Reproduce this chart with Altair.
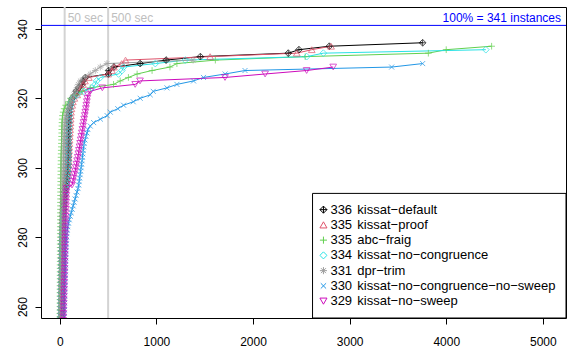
import altair as alt
import pandas as pd

SOLVERS = ["kissat-default", "kissat-proof", "abc-fraig", "kissat-no-congruence",
           "dpr-trim", "kissat-no-congruence-no-sweep", "kissat-no-sweep"]
SOLVED = [336, 335, 335, 334, 331, 330, 329]
COLORS = ["#000000", "#DF536B", "#61D04F", "#28E2E5", "#9E9E9E", "#2297E6", "#CD0BBC"]
SHAPES = [
    "M0,-1L1,0L0,1L-1,0Z M-1,0L1,0 M0,-1L0,1",
    "triangle-up",
    "M-1,0L1,0 M0,-1L0,1",
    "diamond",
    "M-1,0L1,0 M0,-1L0,1 M-0.7,-0.7L0.7,0.7 M-0.7,0.7L0.7,-0.7",
    "M-0.75,-0.75L0.75,0.75 M-0.75,0.75L0.75,-0.75",
    "triangle-down",
]
FIRST_RANK = 255
X_TICKS = [0, 1000, 2000, 3000, 4000, 5000]
Y_TICKS = [260, 280, 300, 320, 340]
TOTAL = 341
MARKS_SEC = [50, 500]

# solving times (s), one per solved instance, from rank FIRST_RANK upwards
t_default = [12, 12, 13, 13, 14, 14, 15, 15, 16, 16,
             17, 17, 18, 18, 19, 19, 20, 20, 21, 21,
             22, 22, 23, 23, 24, 25, 26, 27, 28, 29,
             30, 32, 34, 36, 38, 40, 43, 46, 50, 55,
             60, 66, 72, 78, 82, 84, 85, 86, 87, 88,
             88, 89, 89, 90, 90, 91, 91, 92, 93, 94,
             95, 97, 100, 108, 120, 130, 160, 170, 195, 230,
             240, 265, 503, 505, 560, 832, 1100, 1455, 2365, 2475, 2790, 3756]
t_proof = [14, 14, 15, 15, 16, 16, 17, 17, 18, 18,
           19, 19, 20, 20, 21, 21, 22, 22, 23, 23,
           24, 25, 26, 27, 28, 29, 30, 31, 32, 33,
           34, 36, 38, 40, 42, 45, 48, 52, 56, 60,
           64, 68, 72, 76, 80, 83, 86, 88, 90, 92,
           94, 96, 98, 100, 102, 104, 106, 108, 110, 112,
           114, 116, 120, 128, 135, 150, 180, 200, 220, 240,
           260, 300, 500, 540, 560, 640, 680, 1556, 2453, 2608, 2808]
t_abc = [1, 1, 1, 1, 1, 2, 2, 2, 2, 2,
         2, 2, 3, 3, 3, 3, 3, 3, 4, 4,
         4, 4, 4, 4, 5, 5, 5, 5, 5, 6,
         6, 6, 6, 7, 7, 7, 8, 8, 8, 9,
         9, 10, 10, 11, 11, 12, 12, 13, 13, 14,
         15, 16, 17, 18, 19, 20, 21, 22, 23, 25,
         28, 35, 45, 60, 90, 110, 160, 230, 315, 556,
         625, 710, 800, 955, 1140, 1212, 1610, 2540, 3815, 4000, 4470]
t_nocong = [10, 11, 11, 12, 12, 13, 13, 14, 14, 15,
            15, 16, 16, 17, 17, 18, 18, 19, 19, 20,
            21, 22, 23, 24, 25, 26, 27, 28, 30, 32,
            34, 36, 39, 42, 45, 48, 52, 56, 60, 65,
            70, 75, 78, 80, 82, 83, 84, 85, 86, 87,
            87, 88, 88, 89, 89, 90, 91, 92, 93, 95,
            97, 100, 105, 112, 120, 135, 180, 250, 333, 367,
            380, 420, 608, 643, 660, 988, 1298, 2556, 2728, 4410]
t_dpr = [8, 8, 9, 9, 10, 10, 11, 11, 12, 12,
         13, 13, 14, 14, 15, 15, 16, 16, 17, 17,
         18, 18, 19, 19, 20, 20, 21, 21, 22, 22,
         23, 23, 24, 24, 25, 26, 27, 28, 29, 30,
         31, 32, 33, 34, 35, 36, 37, 38, 39, 40,
         41, 42, 43, 44, 45, 47, 49, 51, 54, 58,
         66, 77, 88, 98, 112, 126, 145, 160, 178, 191,
         212, 264, 315, 367, 419, 488, 1380]
t_nocong_nosweep = [42, 43, 44, 45, 46, 47, 48, 49, 50, 51,
                    52, 53, 54, 55, 56, 57, 58, 59, 60, 61,
                    62, 63, 64, 66, 68, 70, 73, 77, 82, 90,
                    98, 108, 118, 128, 138, 148, 158, 168, 178, 188,
                    195, 200, 205, 210, 215, 220, 225, 230, 234, 238,
                    242, 246, 252, 260, 270, 281, 290, 315, 350, 420,
                    490, 522, 600, 660, 760, 832, 936, 967, 1109, 1212,
                    1384, 1487, 1711, 1917, 3435, 3756]
t_nosweep = [33, 34, 35, 36, 37, 38, 39, 40, 41, 42,
             43, 44, 45, 45, 46, 47, 48, 48, 49, 50,
             51, 52, 52, 53, 54, 55, 56, 57, 58, 59,
             60, 61, 62, 63, 64, 65, 66, 67, 68, 70,
             126, 134, 142, 150, 158, 165, 172, 179, 186, 192,
             198, 204, 210, 216, 222, 228, 234, 240, 246, 252,
             258, 264, 270, 275, 280, 285, 290, 315, 440, 780,
             830, 1710, 2125, 2555, 2830]

TIMES = [t_default, t_proof, t_abc, t_nocong, t_dpr, t_nocong_nosweep, t_nosweep]

MINUS = "\u2212"
NAMES = [s.replace("-", MINUS) for s in SOLVERS]

X_DOMAIN = [-195, 5240]
Y_DOMAIN = [256.7, 346.3]

# legend layout (in axis units, inside the bottom-right corner)
LEG_LEFT = 2616
LEG_TOP = 292.6
LEG_SYM_X = 2729
LEG_NUM_X = 2801
LEG_NAME_X = 3080
LEG_ROW0 = 287.92
LEG_STEP = 4.394

rows = []
for order, (name, ts) in enumerate(zip(NAMES, TIMES)):
    for i, t in enumerate(ts):
        rows.append({"solver": name, "series": name, "drawn": order,
                     "rank": FIRST_RANK + i, "time": t})
df = pd.DataFrame(rows)

leg_df = pd.DataFrame({
    "solver": NAMES,
    "count": [str(n) for n in SOLVED],
    "row": [LEG_ROW0 - i * LEG_STEP for i in range(len(NAMES))],
    "sx": [LEG_SYM_X] * len(NAMES),
    "nx": [LEG_NUM_X] * len(NAMES),
    "lx": [LEG_NAME_X] * len(NAMES),
})
box_df = pd.DataFrame({"x0": [LEG_LEFT], "x1": [X_DOMAIN[1]],
                       "y0": [Y_DOMAIN[0]], "y1": [LEG_TOP]})

xscale = alt.Scale(domain=X_DOMAIN, nice=False, zero=False)
yscale = alt.Scale(domain=Y_DOMAIN, nice=False, zero=False)
cscale = alt.Scale(domain=NAMES, range=COLORS)
sscale = alt.Scale(domain=NAMES, range=SHAPES)
FONT = "Liberation Sans"

xax = alt.Axis(values=X_TICKS, title=None, grid=False, domain=False, tickSize=6, format="d",
               labelPadding=12, labelFlush=False, labelOverlap=False,
               minExtent=32, maxExtent=32)
yax = alt.Axis(values=Y_TICKS, title=None, grid=False, domain=False, tickSize=6, format="d",
               labelPadding=6, labelAngle=270, labelAlign="center", labelBaseline="bottom",
               minExtent=41, maxExtent=41)

vdf = pd.DataFrame({"t": MARKS_SEC, "txt": [f"{m} sec" for m in MARKS_SEC], "y": [TOTAL, TOTAL]})
vrules = alt.Chart(vdf).mark_rule(color="#D3D3D3", strokeWidth=2).encode(
    x=alt.X("t:Q", scale=xscale, axis=xax))
vtext = alt.Chart(vdf).mark_text(align="left", baseline="bottom", dx=3, dy=0, fontSize=12,
                                 font=FONT, color="#BEBEBE").encode(
    x=alt.X("t:Q", scale=xscale), y=alt.Y("y:Q", scale=yscale), text="txt:N")

hdf = pd.DataFrame({"t": [X_DOMAIN[1]], "y": [TOTAL], "txt": [f"100% = {TOTAL} instances"]})
hrule = alt.Chart(hdf).mark_rule(color="#0000FF", strokeWidth=1).encode(
    y=alt.Y("y:Q", scale=yscale, axis=yax))
htext = alt.Chart(hdf).mark_text(align="right", baseline="bottom", dx=-5, dy=0, fontSize=12,
                                 font=FONT, color="#0000FF").encode(
    x=alt.X("t:Q", scale=xscale), y=alt.Y("y:Q", scale=yscale), text="txt:N")

lines = alt.Chart(df).mark_line(strokeWidth=1, clip=True).encode(
    x=alt.X("time:Q", scale=xscale),
    y=alt.Y("rank:Q", scale=yscale),
    stroke=alt.Stroke("series:N", scale=cscale, legend=None),
    order="rank:Q",
)

points = alt.Chart(df).mark_point(filled=False, size=45, strokeWidth=1, clip=True).encode(
    x=alt.X("time:Q", scale=xscale),
    y=alt.Y("rank:Q", scale=yscale),
    color=alt.Color("solver:N", scale=cscale, legend=None),
    shape=alt.Shape("solver:N", scale=sscale, legend=None),
    order=alt.Order("drawn:Q"),
)

leg_box = alt.Chart(box_df).mark_rect(fill="white", stroke="black", strokeWidth=1).encode(
    x=alt.X("x0:Q", scale=xscale), x2="x1:Q",
    y=alt.Y("y0:Q", scale=yscale), y2="y1:Q")
leg_sym = alt.Chart(leg_df).mark_point(filled=False, size=50, strokeWidth=1, opacity=1).encode(
    x=alt.X("sx:Q", scale=xscale), y=alt.Y("row:Q", scale=yscale),
    color=alt.Color("solver:N", scale=cscale, legend=None),
    shape=alt.Shape("solver:N", scale=sscale, legend=None))
leg_num = alt.Chart(leg_df).mark_text(align="left", baseline="middle", fontSize=13,
                                      font=FONT, color="black").encode(
    x=alt.X("nx:Q", scale=xscale), y=alt.Y("row:Q", scale=yscale), text="count:N")
leg_name = alt.Chart(leg_df).mark_text(align="left", baseline="middle", fontSize=13,
                                       font=FONT, color="black").encode(
    x=alt.X("lx:Q", scale=xscale), y=alt.Y("row:Q", scale=yscale), text="solver:N")

chart = alt.layer(vrules, hrule, vtext, htext, lines, points,
                  leg_box, leg_sym, leg_num, leg_name).properties(
    width=574, height=350,
    autosize=alt.AutoSizeParams(type="fit", contains="padding"),
    padding={"left": 0, "top": 6, "right": 7, "bottom": 0},
    background="white",
).configure_view(stroke="black", strokeWidth=1).configure_axis(
    labelFont=FONT, labelFontSize=12, labelColor="black", tickColor="black", tickWidth=1
)

chart.save("out.html", embed_options={"renderer": "svg", "actions": False})
